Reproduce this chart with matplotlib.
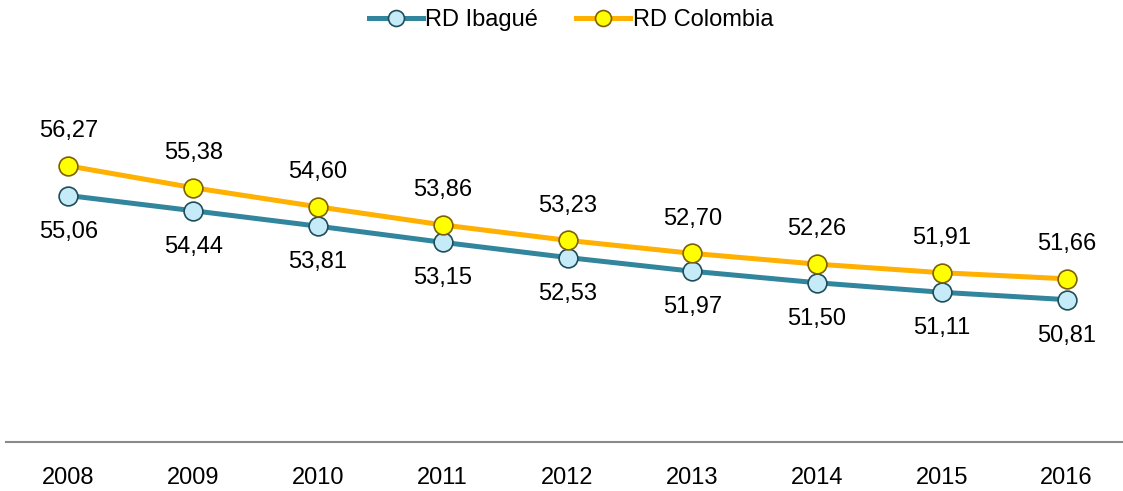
import matplotlib
matplotlib.use("Agg")
import matplotlib.pyplot as plt

years = ["2008", "2009", "2010", "2011", "2012", "2013", "2014", "2015", "2016"]
rd_ibague = [55.06, 54.44, 53.81, 53.15, 52.53, 51.97, 51.50, 51.11, 50.81]
rd_colombia = [56.27, 55.38, 54.60, 53.86, 53.23, 52.70, 52.26, 51.91, 51.66]

plt.rcParams['font.family'] = ['Liberation Sans', 'DejaVu Sans']

fig = plt.figure(figsize=(11.23, 4.91), dpi=100)
ax = fig.add_axes([6 / 1123, 49 / 491, 1.0, (442 - 45) / 491])

x = list(range(len(years)))
l1, = ax.plot(x, rd_ibague, color="#31859C", lw=3.6, marker="o", markersize=13.5,
              markerfacecolor="#C5EBF8", markeredgecolor="#1F4E5A", markeredgewidth=1.2,
              label="RD Ibagué", zorder=3)
l2, = ax.plot(x, rd_colombia, color="#FFB000", lw=3.6, marker="o", markersize=13.5,
              markerfacecolor="#FFFF00", markeredgecolor="#7F6000", markeredgewidth=1.2,
              label="RD Colombia", zorder=3)

def fmt(v):
    return f"{v:.2f}".replace(".", ",")

for xi, v in zip(x, rd_colombia):
    ax.annotate(fmt(v), (xi, v), xytext=(0, 25), textcoords="offset points",
                ha="center", va="center", fontsize=17, color="#000000")
for xi, v in zip(x, rd_ibague):
    ax.annotate(fmt(v), (xi, v), xytext=(0, -26), textcoords="offset points",
                ha="center", va="center", fontsize=17, color="#000000")

ax.set_xlim(-0.5, 8.5)
ax.set_ylim(45, 45 + (442 - 45) / 24.5)
ax.set_xticks(x)
ax.set_xticklabels(years, fontsize=17)
ax.tick_params(axis="x", length=0, pad=18)
ax.set_yticks([])
for s in ["top", "right", "left"]:
    ax.spines[s].set_visible(False)
ax.spines["bottom"].set_color("#898989")
ax.spines["bottom"].set_linewidth(1.5)

fig.legend(handles=[l1, l2], loc="center", bbox_to_anchor=(571 / 1123, 1 - 20 / 491),
           ncol=2, frameon=False, fontsize=17, handlelength=2.3, handletextpad=0.1,
           columnspacing=1.6, markerscale=0.85)

fig.savefig("out.png", dpi=100)
